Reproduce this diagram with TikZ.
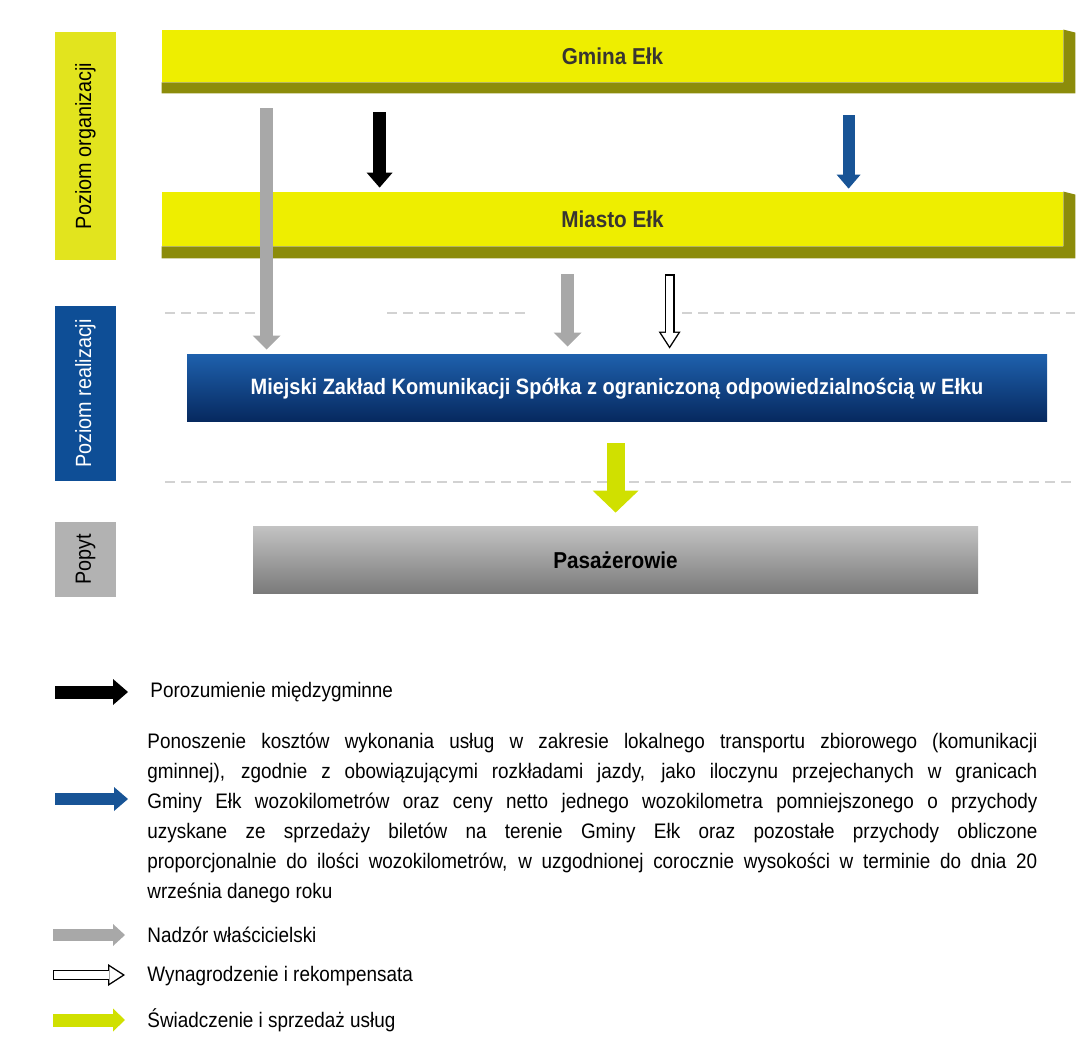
\documentclass[tikz,border=0pt]{standalone}
\usepackage{fontspec}
\setmainfont{Liberation Sans}[FakeStretch=0.9]
\usetikzlibrary{arrows.meta}

\definecolor{yelFace}{RGB}{238,238,0}
\definecolor{yelShade}{RGB}{140,140,10}
\definecolor{yelSide}{RGB}{226,228,30}
\definecolor{mzkTop}{RGB}{30,96,172}
\definecolor{mzkMid}{RGB}{12,74,148}
\definecolor{mzkBot}{RGB}{6,40,94}
\definecolor{sideBlue}{RGB}{14,78,150}
\definecolor{sideGray}{RGB}{178,178,178}
\definecolor{arrGray}{RGB}{168,168,168}
\definecolor{arrBlue}{RGB}{24,84,150}
\definecolor{arrYellow}{RGB}{208,224,0}
\definecolor{dashGray}{RGB}{210,210,210}

\tikzset{
    sidebox/.style={rotate=90, minimum height=30.5pt, inner sep=0pt,
        font=\fontsize{11}{13}\selectfont},
    yelbar/.style={fill=yelFace, minimum width=450.5pt, inner sep=0pt,
        text=black!90!yellow, font=\fontsize{11.5}{13}\selectfont\bfseries},
    bluebar/.style={top color=mzkTop, middle color=mzkMid, bottom color=mzkBot,
        minimum width=430pt, minimum height=33.5pt, inner sep=0pt,
        text=white, font=\fontsize{11.1}{13}\selectfont\bfseries},
    graybar/.style={top color=black!24, middle color=black!30, bottom color=black!52,
        minimum width=362.5pt, minimum height=33pt, inner sep=0pt,
        font=\fontsize{11.5}{13}\selectfont\bfseries},
    legtext/.style={anchor=west, inner sep=0pt, font=\fontsize{10.5}{12.4}\selectfont},
    dashline/.style={dashGray, line width=0.7pt, dash pattern=on 5pt off 3pt},
    arBlack/.style={black, line width=6.5pt,
        -{Triangle[width=13pt,length=7.5pt,line width=0pt]}},
    arGray/.style={arrGray, line width=6.5pt,
        -{Triangle[width=14pt,length=7pt,line width=0pt]}},
    arBlue/.style={arrBlue, line width=6pt,
        -{Triangle[width=12pt,length=7pt,line width=0pt]}},
    arYellow/.style={arrYellow, line width=9pt,
        -{Triangle[width=23pt,length=11pt,line width=0pt]}},
    arHollow/.style={black, line width=5pt,
        -{Triangle[width=11pt,length=8.5pt,line width=0pt]},
        postaction={draw=white, line width=3.6pt, shorten <=0.7pt, shorten >=1.3pt,
            -{Triangle[width=8.4pt,length=6.5pt,line width=0pt]}}}
}

\begin{document}
\begin{tikzpicture}[x=0.5pt, y=-0.5pt]
    \useasboundingbox (0,0) rectangle (1081,1047);

    % poziomy
    \node [sidebox, fill=yelSide, minimum width=114pt] (lvlorg)
        at (85.5,146) {Poziom organizacji};
    \node [sidebox, fill=sideBlue, text=white, minimum width=87.5pt] (lvlreal)
        at (85.5,393.5) {Poziom realizacji};
    \node [sidebox, fill=sideGray, minimum width=37.5pt] (lvldem)
        at (85.5,559.5) {Popyt};

    % linie przerywane
    \draw [dashline]
        (165,313) -- (261,313)
        (387,313) -- (529,313)
        (682,313) -- (1075,313)
        ;
    \draw [dashline]
        (165,482) -- (1075,482)
        ;

    % bloki
    \node [yelbar, minimum height=26pt] (gmina) at (612.5,56) {Gmina Ełk};
    \fill [yelShade]
        (gmina.north east) -- ([xshift=6pt, yshift=-1.5pt]gmina.north east)
        -- ([xshift=6pt, yshift=-5.5pt]gmina.south east)
        -- ([yshift=-5.5pt]gmina.south west) -- (gmina.south west)
        -- (gmina.south east) -- cycle
        ;
    \node [yelbar, minimum height=27pt] (miasto) at (612.5,219) {Miasto Ełk};
    \fill [yelShade]
        (miasto.north east) -- ([xshift=6pt, yshift=-1.5pt]miasto.north east)
        -- ([xshift=6pt, yshift=-6pt]miasto.south east)
        -- ([yshift=-6pt]miasto.south west) -- (miasto.south west)
        -- (miasto.south east) -- cycle
        ;
    \node [bluebar] (mzk) at (617,388.5)
        {Miejski Zakład Komunikacji Spółka z ograniczoną odpowiedzialnością w Ełku};
    \node [graybar] (pas) at (615.5,560) {Pasażerowie};

    % strzałki
    \draw [arGray]
        ([xshift=52.5pt, yshift=-13pt]gmina.south west)
        -- ([xshift=40pt, yshift=2.5pt]mzk.north west);
    \draw [arBlack]
        ([xshift=109pt, yshift=-15pt]gmina.south west)
        -- ([xshift=109pt, yshift=2pt]miasto.north west);
    \draw [arBlue]
        ([xshift=343.5pt, yshift=-16.5pt]gmina.south west)
        -- ([xshift=343.5pt, yshift=1.5pt]miasto.north west);
    \draw [arGray]
        ([xshift=203pt, yshift=-14pt]miasto.south west)
        -- ([xshift=190.5pt, yshift=4pt]mzk.north west);
    \draw [arHollow]
        ([xshift=254pt, yshift=-14pt]miasto.south west)
        -- ([xshift=241.5pt, yshift=3pt]mzk.north west);
    \draw [arYellow]
        ([xshift=214.5pt, yshift=-10.5pt]mzk.south west)
        -- ([xshift=181.5pt, yshift=7pt]pas.north west);

    % legenda
    \node [legtext] (keyblack) at (150,692) {Porozumienie międzygminne};
    \node [legtext, anchor=north west, text width=445pt, align=justify,
        font=\fontsize{10.5}{15}\selectfont] (keyblue)
        at (147,733)
        {Ponoszenie kosztów wykonania usług w zakresie lokalnego transportu zbiorowego (komunikacji\linebreak
        gminnej), zgodnie z obowiązującymi rozkładami jazdy, jako iloczynu przejechanych w granicach\linebreak
        Gminy Ełk wozokilometrów oraz ceny netto jednego wozokilometra pomniejszonego o przychody\linebreak
        uzyskane ze sprzedaży biletów na terenie Gminy Ełk oraz pozostałe przychody obliczone\linebreak
        proporcjonalnie do ilości wozokilometrów, w uzgodnionej corocznie wysokości w terminie do dnia 20\linebreak
        września danego roku};
    \node [legtext] (keygray) at (147,935) {Nadzór właścicielski};
    \node [legtext] (keywhite) at (147,976) {Wynagrodzenie i rekompensata};
    \node [legtext] (keyyellow) at (147,1020) {Świadczenie i sprzedaż usług};

    \coordinate (k1) at (55,692);
    \coordinate (k1e) at (128,692);
    \coordinate (k2) at (55,799);
    \coordinate (k2e) at (128,799);
    \coordinate (k3) at (53,935);
    \coordinate (k3e) at (125,935);
    \coordinate (k4) at (53,975);
    \coordinate (k4e) at (125,975);
    \coordinate (k5) at (53,1020);
    \coordinate (k5e) at (125,1020);
    \draw [arBlack] (k1) -- (k1e);
    \draw [arBlue] (k2) -- (k2e);
    \draw [arGray, line width=6pt,
        -{Triangle[width=11pt,length=6pt,line width=0pt]}] (k3) -- (k3e);
    \draw [arHollow] (k4) -- (k4e);
    \draw [arYellow, line width=6.5pt,
        -{Triangle[width=11.5pt,length=6pt,line width=0pt]}] (k5) -- (k5e);
\end{tikzpicture}
\end{document}
